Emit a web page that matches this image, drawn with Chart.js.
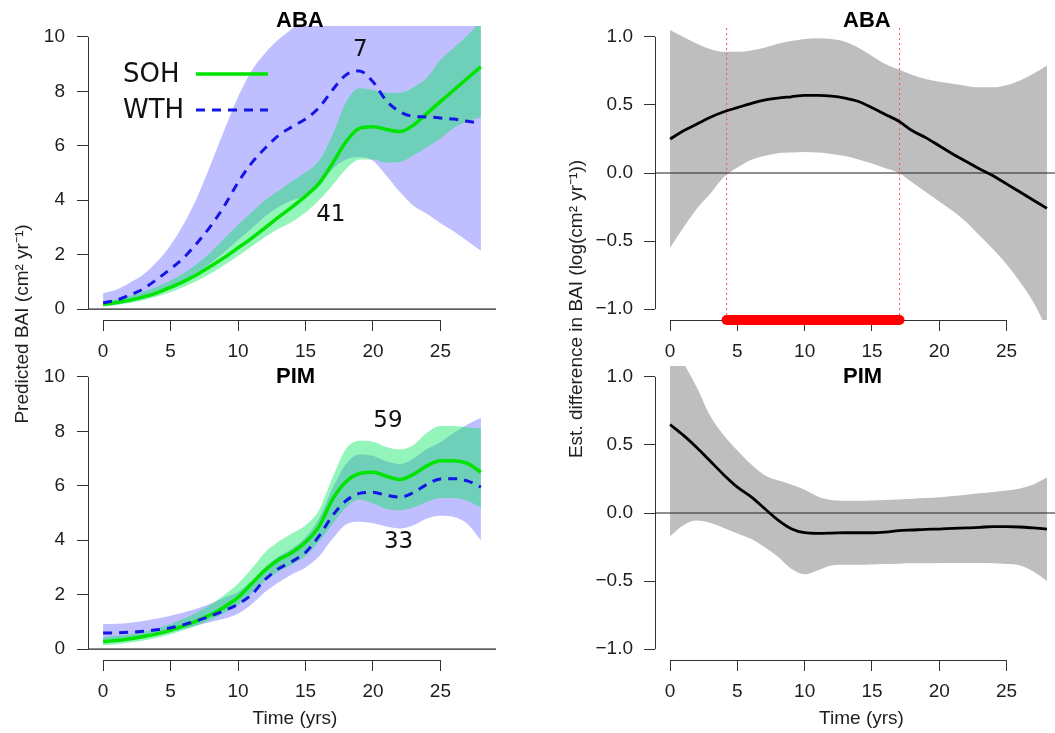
<!DOCTYPE html>
<html>
<head>
<meta charset="utf-8">
<script src="https://cdn.jsdelivr.net/npm/chart.js@4.4.0/dist/chart.umd.min.js"></script>
<style>
  html, body { margin: 0; padding: 0; background: #fff; overflow: hidden; width: 1055px; height: 733px; }
  canvas { position: absolute; left: 0; top: 0; }
</style>
</head>
<body>
<canvas id="aba-bai" width="1070" height="733"></canvas>
<canvas id="aba-diff" width="1070" height="733"></canvas>
<canvas id="pim-bai" width="1070" height="733"></canvas>
<canvas id="pim-diff" width="1070" height="733"></canvas>
<script>
// Data
const years = [0,1,2,3,4,5,6,7,8,9,10,11,12,13,14,15,16,17,18,19,20,21,22,23,24,25,26,27,28];
const xTicks = [0, 5, 10, 15, 20, 25];
const baiTicks = [0, 2, 4, 6, 8, 10];
const diffTicks = [-1, -0.5, 0, 0.5, 1];

// ABA predicted BAI
const abaSoh   = [0.18,0.24,0.33,0.45,0.6,0.8,1.02,1.28,1.58,1.9,2.25,2.6,2.98,3.38,3.75,4.15,4.62,5.35,6.15,6.64,6.7,6.6,6.52,6.76,7.19,7.62,8.05,8.48,8.9];
const abaSohLo = [0.1,0.15,0.22,0.33,0.46,0.62,0.82,1.05,1.32,1.62,1.95,2.3,2.65,2.95,3.2,3.55,4.0,4.55,5.15,5.5,5.5,5.38,5.4,5.65,5.95,6.27,6.65,6.9,7.05];
const abaSohHi = [0.28,0.36,0.48,0.64,0.82,1.05,1.33,1.68,2.1,2.6,3.1,3.55,4.0,4.35,4.7,5.02,5.45,6.4,7.6,8.11,8.05,7.95,7.95,8.15,8.5,9.15,9.6,10.05,10.6];
const abaWth   = [0.23,0.33,0.52,0.75,1.1,1.48,1.9,2.45,3.07,3.8,4.65,5.36,5.91,6.38,6.7,6.98,7.4,8.05,8.6,8.75,8.35,7.65,7.25,7.08,7.06,7.02,6.98,6.9,6.83];
const abaWthLo = [0.1,0.17,0.27,0.4,0.57,0.8,1.05,1.35,1.7,2.1,2.55,2.95,3.4,3.75,4.0,4.15,4.5,5.15,5.5,5.58,5.45,4.9,4.3,3.8,3.5,3.15,2.85,2.5,2.14];
const abaWthHi = [0.58,0.72,0.98,1.28,1.75,2.35,3.15,4.15,5.35,6.6,7.8,8.75,9.4,9.9,10.3,10.7,11.0,11.3,11.5,11.6,11.7,11.8,11.9,12.0,12.1,12.2,12.3,12.4,12.5];

// PIM predicted BAI
const pimSoh   = [0.28,0.32,0.38,0.46,0.56,0.69,0.86,1.05,1.27,1.55,1.9,2.4,2.9,3.28,3.55,3.93,4.5,5.5,6.15,6.45,6.5,6.35,6.23,6.42,6.73,6.92,6.92,6.82,6.5];
const pimSohLo = [0.14,0.18,0.24,0.32,0.42,0.55,0.7,0.88,1.08,1.33,1.62,2.05,2.5,2.85,3.1,3.42,3.95,4.6,5.2,5.5,5.35,5.15,5.1,5.2,5.4,5.55,5.55,5.45,5.2];
const pimSohHi = [0.44,0.48,0.55,0.64,0.76,0.92,1.12,1.36,1.65,2.0,2.4,2.95,3.55,3.95,4.25,4.55,5.1,6.3,7.35,7.65,7.62,7.42,7.33,7.5,7.95,8.2,8.2,8.15,8.1];
const pimWth   = [0.59,0.6,0.62,0.66,0.71,0.78,0.9,1.05,1.22,1.42,1.65,2.0,2.55,2.95,3.22,3.55,4.15,4.9,5.45,5.72,5.76,5.65,5.58,5.75,6.05,6.25,6.26,6.18,5.95];
const pimWthLo = [0.33,0.36,0.4,0.46,0.54,0.63,0.75,0.88,1.0,1.12,1.3,1.65,2.1,2.45,2.75,3.0,3.4,4.05,4.58,4.68,4.62,4.5,4.43,4.55,4.8,4.9,4.85,4.6,4.0];
const pimWthHi = [0.92,0.93,0.97,1.03,1.12,1.23,1.35,1.5,1.68,1.9,2.1,2.5,3.0,3.4,3.7,4.1,4.8,5.9,6.8,7.15,7.1,6.9,6.8,7.0,7.35,7.6,7.95,8.25,8.5];

// Estimated differences (log scale)
const abaDiff   = [0.25,0.31,0.36,0.41,0.45,0.48,0.51,0.535,0.55,0.56,0.57,0.57,0.565,0.55,0.525,0.48,0.43,0.38,0.31,0.26,0.2,0.14,0.085,0.03,-0.02,-0.08,-0.14,-0.2,-0.26];
const abaDiffLo = [-0.55,-0.4,-0.26,-0.15,-0.03,0.04,0.095,0.125,0.145,0.15,0.155,0.15,0.14,0.125,0.1,0.07,0.035,0.0,-0.07,-0.14,-0.21,-0.28,-0.36,-0.46,-0.56,-0.67,-0.8,-0.95,-1.15];
const abaDiffHi = [1.05,1.0,0.95,0.91,0.89,0.89,0.9,0.92,0.95,0.97,0.985,0.99,0.985,0.965,0.92,0.86,0.8,0.76,0.72,0.69,0.67,0.655,0.64,0.63,0.63,0.645,0.68,0.73,0.79];
const abaSignif = [4.2, 17.05];

const pimDiff   = [0.65,0.57,0.48,0.38,0.28,0.19,0.12,0.035,-0.05,-0.115,-0.145,-0.15,-0.148,-0.145,-0.145,-0.145,-0.14,-0.13,-0.125,-0.12,-0.118,-0.113,-0.11,-0.105,-0.1,-0.1,-0.103,-0.11,-0.118];
const pimDiffLo = [-0.17,-0.09,-0.056,-0.074,-0.11,-0.15,-0.19,-0.25,-0.32,-0.41,-0.45,-0.42,-0.385,-0.38,-0.38,-0.378,-0.375,-0.372,-0.37,-0.37,-0.368,-0.367,-0.367,-0.368,-0.37,-0.375,-0.385,-0.43,-0.5];
const pimDiffHi = [1.25,1.1,0.92,0.71,0.57,0.46,0.36,0.28,0.24,0.21,0.17,0.12,0.095,0.09,0.09,0.092,0.095,0.1,0.105,0.11,0.115,0.125,0.135,0.145,0.155,0.165,0.18,0.21,0.26];

// Axis limits (R style 4% extension)
const xRange = [-1.12, 29.12];
const baiRange = [-0.4, 10.4];
const diffRange = [-1.08, 1.08];

// Look
const CW = 1070, CH = 733, XH = 45;
const SANS = "'Liberation Sans', Arial, sans-serif";
const VERD = "'DejaVu Sans', Verdana, sans-serif";
const INK = '#1e1e1e';
const GREEN = '#00e400';
const BLUE = '#1515e6';
const BLUE_BAND = 'rgba(0, 0, 255, 0.25)';
const GREEN_BAND = 'rgba(0, 230, 90, 0.42)';
const GRAY_BAND = '#bebebe';

const pts = ys => years.map((x, i) => ({ x: x, y: ys[i] }));
const seg = (x0, x1, y0, y1) => [{ x: x0, y: y0 }, { x: x1, y: y1 }];

function band(hi, lo, color, order) {
    return [
        { data: pts(hi), fill: '+1', backgroundColor: color, borderColor: 'rgba(0,0,0,0)', borderWidth: 0, order: order },
        { data: pts(lo), fill: false, borderColor: 'rgba(0,0,0,0)', borderWidth: 0, order: order }
    ];
}
function curve(ys, color, width, dash, order) {
    return { data: pts(ys), borderColor: color, borderWidth: width, borderDash: dash, fill: false, order: order };
}
function zeroLine() {
    return { data: seg(xRange[0], xRange[1], 0, 0), borderColor: '#222', borderWidth: 1.2, fill: false, order: 4, cubicInterpolationMode: 'default', tension: 0 };
}

const alignPx = v => Math.round(v - 0.5) + 0.5;

// R-like axes, titles, legend and counts
const decorPlugin = {
    id: 'decor',
    beforeDatasetsDraw(chart, args, o) {
        const { ctx, chartArea: a, scales: { x, y } } = chart;
        const yt = o.yTicks;
        ctx.save();
        ctx.strokeStyle = '#333';
        ctx.lineWidth = 1;
        ctx.beginPath();
        const lx = alignPx(a.left), by = alignPx(a.bottom);
        ctx.moveTo(lx, y.getPixelForValue(yt[0]));
        ctx.lineTo(lx, y.getPixelForValue(yt[yt.length - 1]));
        ctx.moveTo(x.getPixelForValue(xTicks[0]), by);
        ctx.lineTo(x.getPixelForValue(xTicks[xTicks.length - 1]), by);
        ctx.stroke();
        ctx.restore();
    },
    afterDraw(chart, args, o) {
        const { ctx, chartArea: a, scales: { x, y } } = chart;
        ctx.save();
        ctx.fillStyle = '#000';
        // panel title
        ctx.font = 'bold 22px ' + SANS;
        ctx.textAlign = 'left';
        ctx.textBaseline = 'middle';
        ctx.fillText(o.title, a.left + 188, o.titleY);

        ctx.font = '19px ' + SANS;
        ctx.fillStyle = INK;
        if (o.xTitle) {
            ctx.textAlign = 'center';
            ctx.fillText(o.xTitle, (a.left + a.right) / 2 + 3, a.bottom + 59);
        }
        if (o.yTitle) {
            ctx.save();
            ctx.translate(o.yTitleX, o.yTitleY);
            ctx.rotate(-Math.PI / 2);
            ctx.textAlign = 'center';
            ctx.fillText(o.yTitle, 0, 0);
            ctx.restore();
        }
        // sample sizes
        ctx.font = '23px ' + VERD;
        ctx.fillStyle = '#111';
        ctx.textAlign = 'center';
        (o.notes || []).forEach(n => {
            ctx.fillText(n.t, x.getPixelForValue(n.x), y.getPixelForValue(n.y));
        });
        // legend
        if (o.legend) {
            const rows = [
                { label: 'SOH', color: GREEN, width: 3.5, dash: [], y: a.top + 48 },
                { label: 'WTH', color: BLUE, width: 3, dash: [9, 7], y: a.top + 84 }
            ];
            rows.forEach(r => {
                ctx.font = '26px ' + VERD;
                ctx.fillStyle = '#111';
                ctx.textAlign = 'left';
                ctx.fillText(r.label, a.left + 35, r.y + 1);
                ctx.beginPath();
                ctx.strokeStyle = r.color;
                ctx.lineWidth = r.width;
                ctx.setLineDash(r.dash);
                ctx.moveTo(a.left + 108, r.y);
                ctx.lineTo(a.left + 180, r.y);
                ctx.stroke();
                ctx.setLineDash([]);
            });
        }
        ctx.restore();
    }
};

function makePanel(id, area, yRange, yTicks, yFmt, yw, labelPad, datasets, decor) {
    return new Chart(document.getElementById(id), {
        type: 'line',
        data: { datasets: datasets },
        options: {
            responsive: false,
            animation: false,
            devicePixelRatio: 1,
            events: [],
            layout: { padding: { left: area.left - yw, top: area.top, right: CW - area.right, bottom: CH - area.bottom - XH } },
            elements: {
                point: { radius: 0 },
                line: { cubicInterpolationMode: 'monotone', borderCapStyle: 'butt' }
            },
            plugins: { legend: { display: false }, tooltip: { enabled: false }, decor: decor },
            scales: {
                x: {
                    type: 'linear', min: xRange[0], max: xRange[1],
                    afterBuildTicks: s => { s.ticks = xTicks.map(v => ({ value: v })); },
                    afterFit: s => { s.height = XH; },
                    grid: { drawOnChartArea: false, drawTicks: true, tickLength: 11, color: '#333', lineWidth: 1 },
                    border: { display: false },
                    ticks: { padding: 9, color: INK, autoSkip: false, maxRotation: 0, font: { family: SANS, size: 19 }, callback: v => String(v) }
                },
                y: {
                    type: 'linear', min: yRange[0], max: yRange[1],
                    afterBuildTicks: s => { s.ticks = yTicks.map(v => ({ value: v })); },
                    afterFit: s => { s.width = yw; },
                    grid: { drawOnChartArea: false, drawTicks: true, tickLength: 11, color: '#333', lineWidth: 1 },
                    border: { display: false },
                    ticks: { padding: labelPad, color: INK, autoSkip: false, font: { family: SANS, size: 19 }, callback: yFmt }
                }
            }
        },
        plugins: [decorPlugin]
    });
}

const intFmt = v => String(v);
const decFmt = v => v.toFixed(1).replace('-', '\u2212');

const sigLines = (lo, hi) => [
    { data: seg(lo, lo, diffRange[0], diffRange[1]), borderColor: '#ff5050', borderWidth: 1, borderDash: [2, 3], fill: false, order: 3, tension: 0, cubicInterpolationMode: 'default' },
    { data: seg(hi, hi, diffRange[0], diffRange[1]), borderColor: '#ff5050', borderWidth: 1, borderDash: [2, 3], fill: false, order: 3, tension: 0, cubicInterpolationMode: 'default' },
    { data: seg(lo, hi, diffRange[0], diffRange[0]), borderColor: '#ff0000', borderWidth: 10, borderCapStyle: 'round', fill: false, order: 0, clip: false, tension: 0, cubicInterpolationMode: 'default' }
];

makePanel('aba-bai', { left: 88, top: 26, right: 496, bottom: 320 }, baiRange, baiTicks, intFmt, 60, 12, [
    ...band(abaWthHi, abaWthLo, BLUE_BAND, 6),
    ...band(abaSohHi, abaSohLo, GREEN_BAND, 5),
    zeroLine(),
    curve(abaSoh, GREEN, 3.5, [], 2),
    curve(abaWth, BLUE, 3, [9, 7], 1)
], {
    yTicks: baiTicks, title: 'ABA', titleY: 21,
    yTitle: 'Predicted BAI (cm\u00b2 yr\u207b\u00b9)', yTitleX: 23, yTitleY: 324,
    legend: true,
    notes: [{ t: '7', x: 19.06, y: 9.53 }, { t: '41', x: 16.88, y: 3.46 }]
});

makePanel('aba-diff', { left: 655, top: 26, right: 1062, bottom: 320 }, diffRange, diffTicks, decFmt, 70, 11, [
    ...band(abaDiffHi, abaDiffLo, GRAY_BAND, 6),
    zeroLine(),
    curve(abaDiff, '#000', 2.8, [], 2),
    ...sigLines(abaSignif[0], abaSignif[1])
], {
    yTicks: diffTicks, title: 'ABA', titleY: 21,
    yTitle: 'Est. difference in BAI (log(cm\u00b2 yr\u207b\u00b9))', yTitleX: 577, yTitleY: 309
});

makePanel('pim-bai', { left: 88, top: 366, right: 496, bottom: 660 }, baiRange, baiTicks, intFmt, 60, 12, [
    ...band(pimWthHi, pimWthLo, BLUE_BAND, 6),
    ...band(pimSohHi, pimSohLo, GREEN_BAND, 5),
    zeroLine(),
    curve(pimSoh, GREEN, 3.5, [], 2),
    curve(pimWth, BLUE, 3, [9, 7], 1)
], {
    yTicks: baiTicks, title: 'PIM', titleY: 377, xTitle: 'Time (yrs)',
    notes: [{ t: '59', x: 21.11, y: 8.38 }, { t: '33', x: 21.9, y: 3.93 }]
});

makePanel('pim-diff', { left: 655, top: 366, right: 1062, bottom: 660 }, diffRange, diffTicks, decFmt, 70, 11, [
    ...band(pimDiffHi, pimDiffLo, GRAY_BAND, 6),
    zeroLine(),
    curve(pimDiff, '#000', 2.8, [], 2)
], {
    yTicks: diffTicks, title: 'PIM', titleY: 377, xTitle: 'Time (yrs)'
});
</script>
</body>
</html>
